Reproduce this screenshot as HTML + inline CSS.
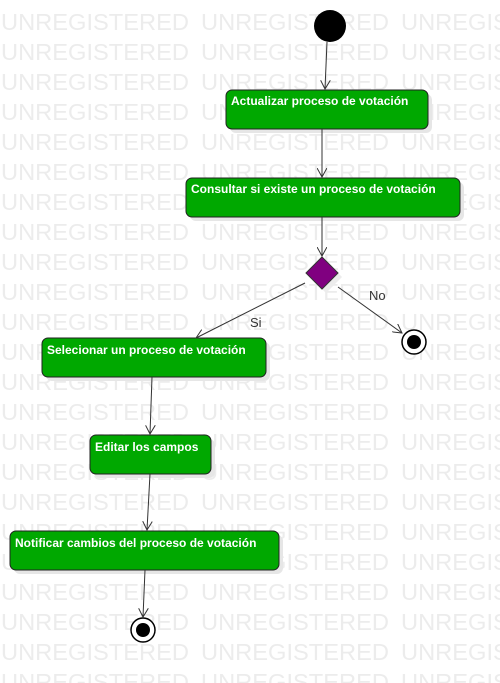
<!DOCTYPE html>
<html><head><style>
html,body{margin:0;padding:0;background:#fff;}
svg{display:block;}
.wm{font-family:"Liberation Sans",sans-serif;font-size:23.5px;fill:#ececec;}
.t{font-family:"Liberation Sans",sans-serif;font-size:12px;font-weight:bold;fill:#fff;}
.l{font-family:"Liberation Sans",sans-serif;font-size:13px;fill:#333;}
.box{fill:#00a800;stroke:#222;stroke-width:1;}
.sh{fill:#e6e6e6;}
.ln{stroke:#333;stroke-width:1;fill:none;}
</style></head><body>
<svg width="500" height="683" xmlns="http://www.w3.org/2000/svg">
<defs>
<marker id="a" markerWidth="10" markerHeight="10" refX="9" refY="5" orient="auto" markerUnits="userSpaceOnUse"><path d="M0,0 L9,5 L0,10" fill="none" stroke="#333"/></marker>
<g id="r"><text x="1" y="0" textLength="188" lengthAdjust="spacingAndGlyphs">UNREGISTERED</text><text x="201" y="0" textLength="188" lengthAdjust="spacingAndGlyphs">UNREGISTERED</text><text x="401" y="0" textLength="188" lengthAdjust="spacingAndGlyphs">UNREGISTERED</text></g>
</defs>
<g class="wm">
<use href="#r" y="30"/><use href="#r" y="60"/><use href="#r" y="90"/><use href="#r" y="120"/>
<use href="#r" y="150"/><use href="#r" y="180"/><use href="#r" y="210"/><use href="#r" y="240"/>
<use href="#r" y="270"/><use href="#r" y="300"/><use href="#r" y="330"/><use href="#r" y="360"/>
<use href="#r" y="390"/><use href="#r" y="420"/><use href="#r" y="450"/><use href="#r" y="480"/>
<use href="#r" y="510"/><use href="#r" y="540"/><use href="#r" y="570"/><use href="#r" y="600"/>
<use href="#r" y="630"/><use href="#r" y="660"/><use href="#r" y="690"/>
</g>
<rect class="sh" x="230" y="94" width="202" height="39" rx="6"/>
<rect class="sh" x="190" y="182" width="274" height="39" rx="6"/>
<rect class="sh" x="46" y="342" width="224" height="39" rx="6"/>
<rect class="sh" x="94" y="439" width="121" height="39" rx="6"/>
<rect class="sh" x="14" y="535" width="269" height="39" rx="6"/>
<circle cx="330" cy="26" r="16" fill="#000"/>
<rect class="box" x="226" y="90" width="202" height="39" rx="6"/>
<text class="t" x="231" y="105">Actualizar proceso de votación</text>
<rect class="box" x="186" y="178" width="274" height="39" rx="6"/>
<text class="t" x="191" y="193">Consultar si existe un proceso de votación</text>
<rect class="box" x="42" y="338" width="224" height="39" rx="6"/>
<text class="t" x="47" y="354">Selecionar un proceso de votación</text>
<rect class="box" x="90" y="435" width="121" height="39" rx="6"/>
<text class="t" x="95" y="451">Editar los campos</text>
<rect class="box" x="10" y="531" width="269" height="39" rx="6"/>
<text class="t" x="15" y="547">Notificar cambios del proceso de votación</text>
<path d="M326,261 L342,277 L326,293 L310,277Z" fill="#ececec"/>
<path d="M322,257 L338,273 L322,289 L306,273Z" fill="#800080" stroke="#333"/>
<circle cx="414" cy="342" r="12" fill="#fff" stroke="#000" stroke-width="1.5"/>
<circle cx="414" cy="342" r="7" fill="#000"/>
<circle cx="143" cy="630" r="12" fill="#fff" stroke="#000" stroke-width="1.5"/>
<circle cx="143" cy="630" r="7" fill="#000"/>
<line class="ln" x1="327" y1="42" x2="325" y2="89" marker-end="url(#a)"/>
<line class="ln" x1="322" y1="129" x2="322" y2="177" marker-end="url(#a)"/>
<line class="ln" x1="322" y1="217" x2="322" y2="256" marker-end="url(#a)"/>
<line class="ln" x1="305" y1="283" x2="196" y2="338" marker-end="url(#a)"/>
<line class="ln" x1="338" y1="287" x2="402" y2="333" marker-end="url(#a)"/>
<line class="ln" x1="152" y1="377" x2="150" y2="434" marker-end="url(#a)"/>
<line class="ln" x1="150" y1="474" x2="147" y2="530" marker-end="url(#a)"/>
<line class="ln" x1="145" y1="570" x2="143" y2="617" marker-end="url(#a)"/>
<text class="l" x="250" y="327">Si</text>
<text class="l" x="369" y="300">No</text>
</svg>
</body></html>
